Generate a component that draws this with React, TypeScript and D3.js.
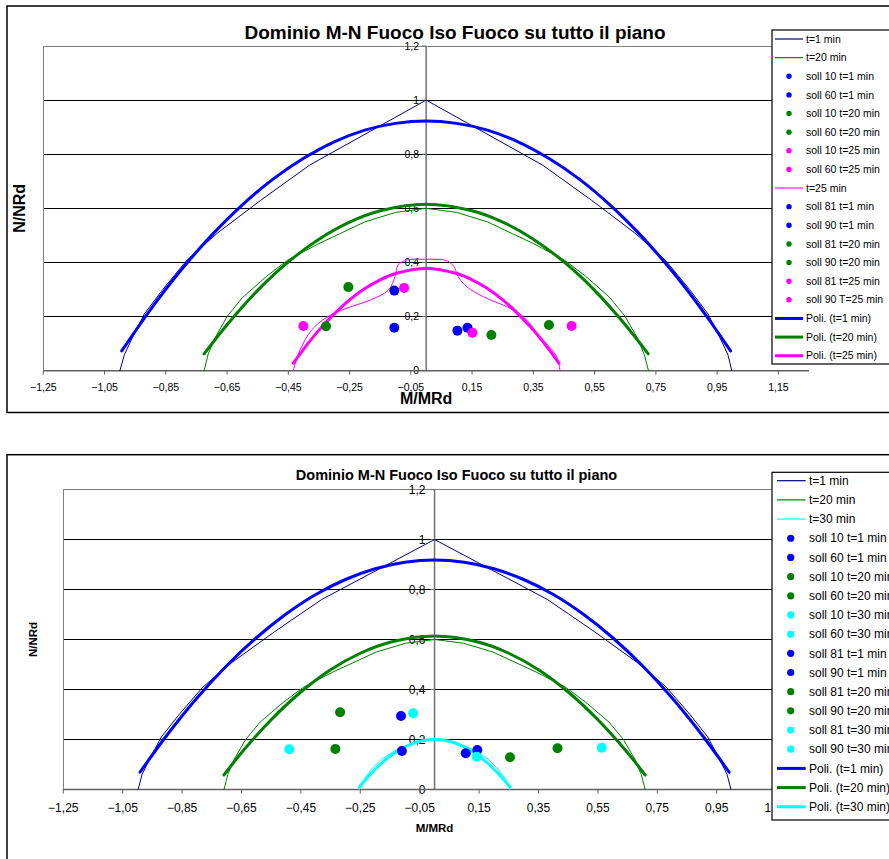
import React from 'react';
import * as d3 from 'd3';

type P = [number, number];

const xTicks = [-1.25, -1.05, -0.85, -0.65, -0.45, -0.25, -0.05, 0.15, 0.35, 0.55, 0.75, 0.95, 1.15];
const yTicks = [0, 0.2, 0.4, 0.6, 0.8, 1, 1.2];
const gridValues = [0.2, 0.4, 0.6, 0.8, 1];

const chartTitle = 'Dominio M-N Fuoco Iso Fuoco su tutto il piano';
const xAxisTitle = 'M/MRd';
const yAxisTitle = 'N/NRd';

// ---------- top chart ----------
const topThinT1: P[] = [
  [-1.0, 0], [-0.985, 0.06], [-0.96, 0.12], [-0.92, 0.21], [-0.86, 0.3], [-0.78, 0.41], [-0.68, 0.51],
  [-0.54, 0.63], [-0.38, 0.76], [0, 1], [0.38, 0.76], [0.54, 0.63], [0.68, 0.51], [0.78, 0.41],
  [0.86, 0.3], [0.92, 0.21], [0.96, 0.12], [0.985, 0.06], [0.998, 0],
];
const topThinT20: P[] = [
  [-0.725, 0], [-0.712, 0.06], [-0.69, 0.12], [-0.65, 0.2], [-0.6, 0.27], [-0.52, 0.35], [-0.45, 0.41],
  [-0.35, 0.47], [-0.2, 0.55], [-0.1, 0.585], [0, 0.6], [0.1, 0.585], [0.2, 0.55], [0.35, 0.47],
  [0.45, 0.41], [0.52, 0.35], [0.6, 0.27], [0.65, 0.2], [0.69, 0.12], [0.712, 0.06], [0.726, 0],
];
const topThinT25: P[] = [
  [-0.434, 0], [-0.412, 0.076], [-0.374, 0.15], [-0.325, 0.197], [-0.259, 0.231], [-0.183, 0.261],
  [-0.123, 0.298], [-0.102, 0.347], [-0.091, 0.391], [-0.063, 0.409], [0, 0.412], [0.067, 0.407],
  [0.091, 0.384], [0.105, 0.347], [0.133, 0.31], [0.187, 0.273], [0.274, 0.231], [0.317, 0.2],
  [0.372, 0.126], [0.426, 0.052], [0.437, 0],
];
const topPoliT1: P[] = [
  [-0.994, 0.073], [-0.9, 0.226], [-0.8, 0.372], [-0.7, 0.501], [-0.6, 0.613], [-0.5, 0.708],
  [-0.4, 0.785], [-0.3, 0.846], [-0.2, 0.889], [-0.1, 0.914], [0, 0.923], [0.1, 0.914], [0.2, 0.889],
  [0.3, 0.846], [0.4, 0.785], [0.5, 0.708], [0.6, 0.613], [0.7, 0.501], [0.8, 0.372], [0.9, 0.226],
  [0.994, 0.073],
];
const topPoliT20: P[] = [
  [-0.725, 0.062], [-0.65, 0.17], [-0.55, 0.297], [-0.45, 0.402], [-0.35, 0.486], [-0.25, 0.549],
  [-0.15, 0.591], [0, 0.615], [0.15, 0.591], [0.25, 0.549], [0.35, 0.486], [0.45, 0.402],
  [0.55, 0.297], [0.65, 0.17], [0.725, 0.062],
];
const topPoliT25: P[] = [
  [-0.434, 0.027], [-0.4, 0.08], [-0.35, 0.15], [-0.3, 0.21], [-0.25, 0.262], [-0.2, 0.304],
  [-0.15, 0.336], [-0.1, 0.359], [0, 0.378], [0.1, 0.359], [0.15, 0.336], [0.2, 0.304],
  [0.25, 0.262], [0.3, 0.21], [0.35, 0.15], [0.4, 0.08], [0.434, 0.027],
];
const topSoll10T1: P = [-0.104, 0.296];
const topSoll60T1: P = [-0.104, 0.159];
const topSoll81T1: P = [0.102, 0.148];
const topSoll90T1: P = [0.135, 0.159];
const topSoll10T20: P = [-0.254, 0.309];
const topSoll60T20: P = [-0.327, 0.164];
const topSoll81T20: P = [0.213, 0.132];
const topSoll90T20: P = [0.401, 0.169];
const topSoll10T25: P = [-0.072, 0.306];
const topSoll60T25: P = [-0.401, 0.165];
const topSoll81T25: P = [0.151, 0.14];
const topSoll90T25: P = [0.475, 0.165];

const topLegendLabels = [
  't=1 min', 't=20 min', 'soll 10 t=1 min', 'soll 60 t=1 min', 'soll 10 t=20 min', 'soll 60 t=20 min',
  'soll 10 t=25 min', 'soll 60 t=25 min', 't=25 min', 'soll 81 t=1 min', 'soll 90 t=1 min',
  'soll 81 t=20 min', 'soll 90 t=20 min', 'soll 81 t=25 min', 'soll 90 T=25 min',
  'Poli. (t=1 min)', 'Poli. (t=20 min)', 'Poli. (t=25 min)',
];

// ---------- bottom chart ----------
const botThinT1: P[] = [
  [-0.998, 0], [-0.985, 0.06], [-0.96, 0.12], [-0.92, 0.21], [-0.86, 0.3], [-0.78, 0.41], [-0.68, 0.51],
  [-0.54, 0.63], [-0.38, 0.76], [0, 1], [0.38, 0.76], [0.54, 0.63], [0.68, 0.51], [0.78, 0.41],
  [0.86, 0.3], [0.92, 0.21], [0.96, 0.12], [0.985, 0.06], [0.998, 0],
];
const botThinT20: P[] = [
  [-0.709, 0], [-0.696, 0.06], [-0.675, 0.12], [-0.636, 0.2], [-0.587, 0.27], [-0.508, 0.35],
  [-0.44, 0.41], [-0.342, 0.47], [-0.196, 0.55], [-0.098, 0.585], [0, 0.6], [0.098, 0.585],
  [0.196, 0.55], [0.342, 0.47], [0.44, 0.41], [0.508, 0.35], [0.587, 0.27], [0.636, 0.2],
  [0.675, 0.12], [0.696, 0.06], [0.709, 0],
];
const botThinT30: P[] = [
  [-0.253, 0], [-0.235, 0.045], [-0.21, 0.085], [-0.18, 0.12], [-0.13, 0.158], [-0.07, 0.187],
  [0, 0.205], [0.07, 0.19], [0.13, 0.16], [0.18, 0.122], [0.215, 0.08], [0.24, 0.04], [0.253, 0],
];
const botPoliT1: P[] = [
  [-0.992, 0.069], [-0.9, 0.219], [-0.8, 0.366], [-0.7, 0.495], [-0.6, 0.607], [-0.5, 0.702],
  [-0.4, 0.78], [-0.3, 0.84], [-0.2, 0.883], [-0.1, 0.909], [0, 0.918], [0.1, 0.909], [0.2, 0.883],
  [0.3, 0.84], [0.4, 0.78], [0.5, 0.702], [0.6, 0.607], [0.7, 0.495], [0.8, 0.366], [0.9, 0.219],
  [0.992, 0.069],
];
const botPoliT20: P[] = [
  [-0.709, 0.058], [-0.65, 0.147], [-0.55, 0.279], [-0.45, 0.39], [-0.35, 0.479], [-0.25, 0.545],
  [-0.15, 0.589], [0, 0.614], [0.15, 0.589], [0.25, 0.545], [0.35, 0.479], [0.45, 0.39],
  [0.55, 0.279], [0.65, 0.147], [0.709, 0.058],
];
const botPoliT30: P[] = [
  [-0.253, 0.01], [-0.22, 0.056], [-0.18, 0.104], [-0.14, 0.142], [-0.1, 0.17], [-0.05, 0.193],
  [0, 0.2], [0.05, 0.193], [0.1, 0.17], [0.14, 0.142], [0.18, 0.104], [0.22, 0.056], [0.254, 0.01],
];
const botSoll10T1: P = [-0.113, 0.294];
const botSoll60T1: P = [-0.11, 0.154];
const botSoll81T1: P = [0.105, 0.145];
const botSoll90T1: P = [0.144, 0.158];
const botSoll10T20: P = [-0.318, 0.309];
const botSoll60T20: P = [-0.334, 0.162];
const botSoll81T20: P = [0.254, 0.129];
const botSoll90T20: P = [0.414, 0.165];
const botSoll10T30: P = [-0.072, 0.305];
const botSoll60T30: P = [-0.489, 0.161];
const botSoll81T30: P = [0.142, 0.131];
const botSoll90T30: P = [0.563, 0.167];

const botLegendLabels = [
  't=1 min', 't=20 min', 't=30 min', 'soll 10 t=1 min', 'soll 60 t=1 min', 'soll 10 t=20 min',
  'soll 60 t=20 min', 'soll 10 t=30 min', 'soll 60 t=30 min', 'soll 81 t=1 min', 'soll 90 t=1 min',
  'soll 81 t=20 min', 'soll 90 t=20 min', 'soll 81 t=30 min', 'soll 90 t=30 min',
  'Poli. (t=1 min)', 'Poli. (t=20 min)', 'Poli. (t=30 min)',
];

const NAVY = '#000080';
const BLUE = '#0000ff';
const GREEN = '#008000';
const MAGENTA = '#ff00ff';
const CYAN = '#00ffff';
const FONT = "'Liberation Sans', Arial, sans-serif";

type LineSpec = { data: P[]; color: string; width: number; smooth?: boolean };
type PointSpec = { p: P; color: string };
type LegendItem = { label: string; kind: 'line' | 'dot'; color: string; width?: number };

interface ChartProps {
  px: [number, number];
  py: [number, number];
  frame: { x: number; y: number; w: number; h: number };
  title: { x: number; y: number; size: number };
  xLab: { y: number; size: number };
  yLab: { x: number; size: number };
  tickSize: number;
  xTickLabelY: number;
  yLabelGap: number;
  lines: LineSpec[];
  points: PointSpec[];
  pointR: number;
  legend: {
    x: number; y: number; h: number; first: number; dy: number; size: number;
    lx0: number; lx1: number; tx: number; mx: number; mr: number; items: LegendItem[];
  };
}

const fmt = (v: number) => {
  const s = Math.abs(v - Math.round(v)) < 1e-9 ? String(Math.round(v)) : d3.format('.2~f')(v);
  return s.replace('.', ',');
};

function Chart(props: ChartProps) {
  const { px, py, frame, title, xLab, yLab, tickSize, xTickLabelY, yLabelGap, lines, points, pointR, legend } = props;
  const x = d3.scaleLinear().domain([-1.25, 1.25]).range(px);
  const y = d3.scaleLinear().domain([0, 1.2]).range(py);
  const x0 = x(0);
  const lineGen = (smooth?: boolean) =>
    d3.line<P>().x((d) => x(d[0])).y((d) => y(d[1])).curve(smooth ? d3.curveCatmullRom.alpha(0.5) : d3.curveLinear);
  const leg = legend;
  return (
    <g fontFamily={FONT}>
      <rect x={frame.x} y={frame.y} width={frame.w} height={frame.h} fill="#fff" stroke="#000" strokeWidth={1.5} />
      <text x={title.x} y={title.y} textAnchor="middle" fontWeight="bold" fontSize={title.size} fill="#000">{chartTitle}</text>
      {gridValues.map((g) => (
        <line key={g} x1={px[0]} x2={px[1]} y1={y(g)} y2={y(g)} stroke="#000" strokeWidth={1} shapeRendering="crispEdges" />
      ))}
      <line x1={px[0]} x2={px[1]} y1={y(1.2)} y2={y(1.2)} stroke="#808080" strokeWidth={1} shapeRendering="crispEdges" />
      <line x1={px[0]} x2={px[0]} y1={y(0)} y2={y(1.2)} stroke="#808080" strokeWidth={1} shapeRendering="crispEdges" />
      <line x1={x0} x2={x0} y1={y(0)} y2={y(1.2)} stroke="#707070" strokeWidth={1.5} />
      {yTicks.map((t) => (
        <g key={t}>
          <line x1={x0 - 4} x2={x0} y1={y(t)} y2={y(t)} stroke="#707070" strokeWidth={1} />
          <text x={x0 - yLabelGap} y={y(t)} dy="0.35em" textAnchor="end" fontSize={tickSize} fill="#000">{fmt(t)}</text>
        </g>
      ))}
      <line x1={px[0]} x2={px[1]} y1={y(0)} y2={y(0)} stroke="#606060" strokeWidth={1.5} />
      {xTicks.map((t) => (
        <g key={t}>
          <line x1={x(t)} x2={x(t)} y1={y(0)} y2={y(0) + 4} stroke="#606060" strokeWidth={1} />
          <text x={x(t)} y={xTickLabelY} textAnchor="middle" fontSize={tickSize} fill="#000">{fmt(t)}</text>
        </g>
      ))}
      <text x={x0} y={xLab.y} textAnchor="middle" fontWeight="bold" fontSize={xLab.size} fill="#000">{xAxisTitle}</text>
      <text
        transform={`translate(${yLab.x},${(py[0] + py[1]) / 2}) rotate(-90)`}
        textAnchor="middle" dy="0.35em" fontWeight="bold" fontSize={yLab.size} fill="#000"
      >{yAxisTitle}</text>
      {lines.map((l, i) => (
        <path key={i} d={lineGen(l.smooth)(l.data) || ''} fill="none" stroke={l.color} strokeWidth={l.width}
          strokeLinejoin="round" strokeLinecap="round" />
      ))}
      {points.map((p, i) => (
        <circle key={i} cx={x(p.p[0])} cy={y(p.p[1])} r={pointR} fill={p.color} />
      ))}
      <rect x={leg.x} y={leg.y} width={200} height={leg.h} fill="#fff" stroke="#000" strokeWidth={1.2} />
      {leg.items.map((it, i) => {
        const yy = leg.first + i * leg.dy;
        return (
          <g key={i}>
            {it.kind === 'line' ? (
              <line x1={leg.lx0} x2={leg.lx1} y1={yy} y2={yy} stroke={it.color} strokeWidth={it.width || 1} />
            ) : (
              <circle cx={leg.mx} cy={yy} r={leg.mr} fill={it.color} />
            )}
            <text x={leg.tx} y={yy} dy="0.35em" fontSize={leg.size} fill="#000">{it.label}</text>
          </g>
        );
      })}
    </g>
  );
}

const topColors: [string, 'line' | 'dot', number?][] = [
  [NAVY, 'line', 1.2], [GREEN, 'line', 1.2], [BLUE, 'dot'], [BLUE, 'dot'], [GREEN, 'dot'], [GREEN, 'dot'],
  [MAGENTA, 'dot'], [MAGENTA, 'dot'], ['#ff70ff', 'line', 2], [BLUE, 'dot'], [BLUE, 'dot'], [GREEN, 'dot'],
  [GREEN, 'dot'], [MAGENTA, 'dot'], [MAGENTA, 'dot'], [BLUE, 'line', 3], [GREEN, 'line', 3], [MAGENTA, 'line', 3],
];
const botColors: [string, 'line' | 'dot', number?][] = [
  [NAVY, 'line', 1.2], [GREEN, 'line', 1.2], [CYAN, 'line', 1.2], [BLUE, 'dot'], [BLUE, 'dot'], [GREEN, 'dot'],
  [GREEN, 'dot'], [CYAN, 'dot'], [CYAN, 'dot'], [BLUE, 'dot'], [BLUE, 'dot'], [GREEN, 'dot'],
  [GREEN, 'dot'], [CYAN, 'dot'], [CYAN, 'dot'], [BLUE, 'line', 3], [GREEN, 'line', 3], [CYAN, 'line', 3],
];

export default function App() {
  const topProps: ChartProps = {
    px: [43.3, 809],
    py: [370.7, 46],
    frame: { x: 7, y: 6, w: 900, h: 406.5 },
    title: { x: 455, y: 38.5, size: 19 },
    xLab: { y: 404, size: 16 },
    yLab: { x: 19, size: 16 },
    tickSize: 10.5,
    xTickLabelY: 390.5,
    yLabelGap: 7,
    lines: [
      { data: topThinT1, color: NAVY, width: 1 },
      { data: topThinT20, color: GREEN, width: 1 },
      { data: topThinT25, color: MAGENTA, width: 1, smooth: true },
      { data: topPoliT1, color: BLUE, width: 3, smooth: true },
      { data: topPoliT20, color: GREEN, width: 3, smooth: true },
      { data: topPoliT25, color: MAGENTA, width: 3, smooth: true },
    ],
    points: [
      { p: topSoll10T1, color: BLUE }, { p: topSoll60T1, color: BLUE },
      { p: topSoll10T20, color: GREEN }, { p: topSoll60T20, color: GREEN },
      { p: topSoll10T25, color: MAGENTA }, { p: topSoll60T25, color: MAGENTA },
      { p: topSoll81T1, color: BLUE }, { p: topSoll90T1, color: BLUE },
      { p: topSoll81T20, color: GREEN }, { p: topSoll90T20, color: GREEN },
      { p: topSoll81T25, color: MAGENTA }, { p: topSoll90T25, color: MAGENTA },
    ],
    pointR: 5,
    legend: {
      x: 772, y: 30, h: 334, first: 39, dy: 18.63, size: 10.5,
      lx0: 775, lx1: 803, tx: 806, mx: 789, mr: 2.7,
      items: topLegendLabels.map((label, i) => ({ label, kind: topColors[i][1], color: topColors[i][0], width: topColors[i][2] })),
    },
  };
  const botProps: ChartProps = {
    px: [63.3, 805.8],
    py: [789.5, 489.5],
    frame: { x: 7, y: 454.7, w: 900, h: 500 },
    title: { x: 456.5, y: 480, size: 14.5 },
    xLab: { y: 831.5, size: 11.5 },
    yLab: { x: 33, size: 11.5 },
    tickSize: 12,
    xTickLabelY: 812,
    yLabelGap: 9,
    lines: [
      { data: botThinT1, color: NAVY, width: 1 },
      { data: botThinT20, color: GREEN, width: 1 },
      { data: botThinT30, color: CYAN, width: 1 },
      { data: botPoliT1, color: BLUE, width: 3, smooth: true },
      { data: botPoliT20, color: GREEN, width: 3, smooth: true },
      { data: botPoliT30, color: CYAN, width: 3, smooth: true },
    ],
    points: [
      { p: botSoll10T1, color: BLUE }, { p: botSoll60T1, color: BLUE },
      { p: botSoll10T20, color: GREEN }, { p: botSoll60T20, color: GREEN },
      { p: botSoll10T30, color: CYAN }, { p: botSoll60T30, color: CYAN },
      { p: botSoll81T1, color: BLUE }, { p: botSoll90T1, color: BLUE },
      { p: botSoll81T20, color: GREEN }, { p: botSoll90T20, color: GREEN },
      { p: botSoll81T30, color: CYAN }, { p: botSoll90T30, color: CYAN },
    ],
    pointR: 5,
    legend: {
      x: 772, y: 472.3, h: 347.7, first: 480.7, dy: 19.18, size: 12,
      lx0: 777, lx1: 805.7, tx: 809, mx: 790.7, mr: 3.6,
      items: botLegendLabels.map((label, i) => ({ label, kind: botColors[i][1], color: botColors[i][0], width: botColors[i][2] })),
    },
  };
  return (
    <svg width={889} height={859} style={{ position: 'absolute', left: 0, top: 0, background: '#fff' }}>
      <rect x={0} y={0} width={889} height={859} fill="#fff" />
      <Chart {...topProps} />
      <Chart {...botProps} />
    </svg>
  );
}
